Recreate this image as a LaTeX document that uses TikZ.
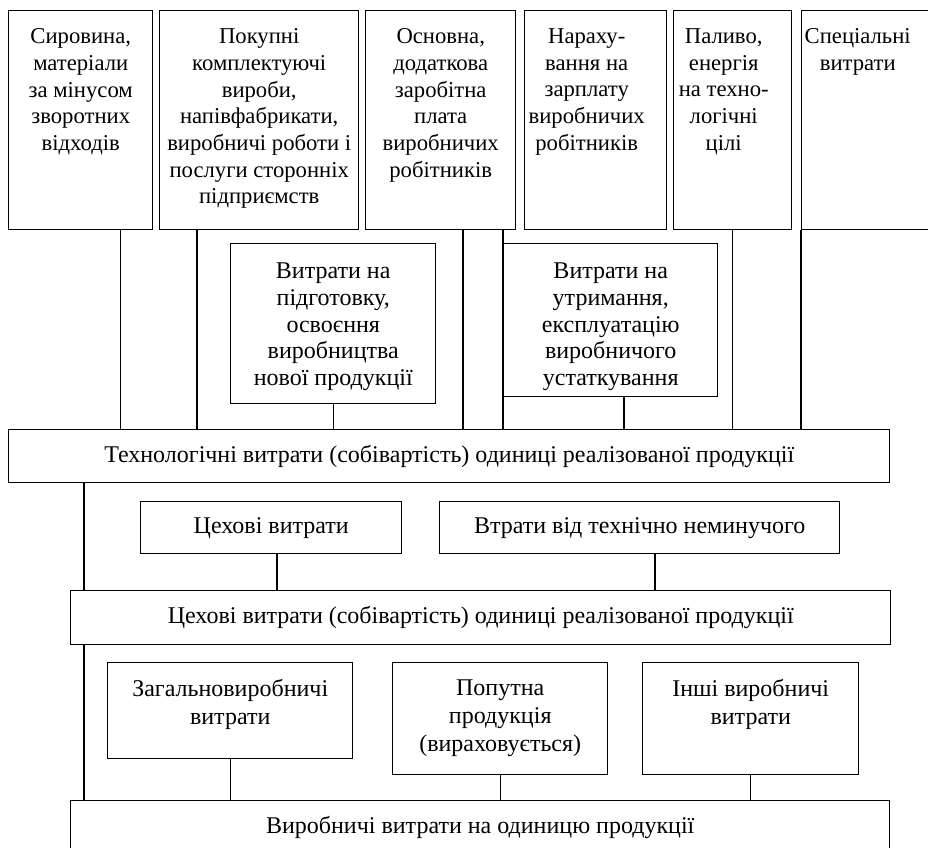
\documentclass[tikz,border=0pt]{standalone}
\usepackage{fontspec}
\setmainfont{Liberation Serif}
\usepackage{tikz}
\newlength{\pxu}
\setlength{\pxu}{0.75pt}
\newcommand{\cellbox}[4]{\parbox[t][#2\pxu][t]{#1\pxu}{\centering\vspace*{#3\pxu}#4}}
\tikzstyle{cell} = [
    rectangle,
    draw=black,
    line width=1.1pt,
    anchor=north west,
    inner sep=0pt
]
\tikzstyle{topcell} = [cell, font={\fontsize{17}{20}\selectfont}]
\tikzstyle{midcell} = [cell, font={\fontsize{18}{20.1}\selectfont}]
\tikzstyle{lowcell} = [cell, font={\fontsize{18}{21}\selectfont}]
\tikzstyle{bar} = [
    cell,
    font={\fontsize{18}{21}\selectfont},
    minimum height=53\pxu
]
\tikzstyle{link} = [
    line width=1.1pt,
    draw=black
]

\begin{document}
\begin{tikzpicture}[x=0.75pt, y=-0.75pt]
\useasboundingbox (0,0) rectangle (928,848);

% Top row of cost items
\node (raw) [topcell] at (8,10)
{\cellbox{144}{219}{18}{Сировина,\\ матеріали\\ за мінусом\\ зворотних\\ відходів}};

\node (bought) [topcell] at (159,10)
{\cellbox{199}{219}{18}{Покупні\\ комплектуючі\\ вироби,\\ напівфабрикати,\\ виробничі роботи і\\ послуги сторонніх\\ підприємств}};

\node (wage) [topcell] at (365,10)
{\cellbox{150}{219}{18}{Основна,\\ додаткова\\ заробітна\\ плата\\ виробничих\\ робітників}};

\node (accrual) [topcell] at (524,10)
{\cellbox{124}{219}{18}{Нараху-\\ вання на\\ зарплату\\ виробничих\\ робітників}\hspace*{18\pxu}};

\node (fuel) [topcell] at (673,10)
{\cellbox{100}{219}{18}{Паливо,\\ енергія\\ на техно-\\ логічні\\ цілі}\hspace*{18\pxu}};

\node (special) [topcell] at (801,10)
{\cellbox{112}{219}{18}{Спеціальні\\ витрати}\hspace*{30\pxu}};

\node (prep) [midcell] at (230,243)
{\cellbox{205}{160}{19}{Витрати на\\ підготовку,\\ освоєння\\ виробництва\\ нової продукції}};

\node (maint) [midcell] at (503,243)
{\cellbox{214}{153}{19}{Витрати на\\ утримання,\\ експлуатацію\\ виробничого\\ устаткування}};

\node (tech) [bar, minimum width=881\pxu] at (8,429)
{Технологічні витрати (собівартість) одиниці реалізованої продукції};

% Shop level
\node (shopcost) [bar, minimum width=261\pxu, minimum height=52\pxu] at (140,501) {Цехові витрати};

\node (loss) [bar, minimum width=400\pxu, minimum height=52\pxu] at (439,501) {Втрати від технічно неминучого};

\node (shop) [bar, minimum width=820\pxu, minimum height=54\pxu] at (70,590)
{Цехові витрати (собівартість) одиниці реалізованої продукції};

% Production level
\node (general) [lowcell] at (107,662)
{\cellbox{245}{96}{17}{Загальновиробничі\\ витрати}};

\node (byprod) [lowcell] at (392,662)
{\cellbox{215}{112}{17}{Попутна\\ продукція\\ (вираховується)}};

\node (other) [lowcell] at (642,662)
{\cellbox{216}{112}{17}{Інші виробничі\\ витрати}};

\node (total) [bar, minimum width=819\pxu] at (70,800)
{Виробничі витрати на одиницю продукції};

% Lines
\draw [link] ([xshift=40\pxu]raw.south) coordinate (l1) -- (l1 |- tech.north);
\draw [link] ([xshift=38\pxu]bought.south west) coordinate (l2) -- (l2 |- tech.north);
\draw [link] ([xshift=98\pxu]wage.south west) coordinate (l3) -- (l3 |- tech.north);
\draw [link] ([xshift=138\pxu]wage.south west) coordinate (l4) -- (l4 |- tech.north);
\draw [link] (prep.south) -- (prep.south |- tech.north);
\draw [link] ([xshift=121\pxu]maint.south west) coordinate (l5) -- (l5 |- tech.north);
\draw [link] (fuel.south) -- (fuel.south |- tech.north);
\draw [link] (special.south west) -- (special.south west |- tech.north);

\draw [link] ([xshift=76\pxu]tech.south west) coordinate (l6) -- (l6 |- shop.north);
\draw [link] ([xshift=137\pxu]shopcost.south west) coordinate (l7) -- (l7 |- shop.north);
\draw [link] ([xshift=216\pxu]loss.south west) coordinate (l8) -- (l8 |- shop.north);

\draw [link] ([xshift=14\pxu]shop.south west) coordinate (l9) -- (l9 |- total.north);
\draw [link] (general.south) -- (general.south |- total.north);
\draw [link] (byprod.south) -- (byprod.south |- total.north);
\draw [link] (other.south) -- (other.south |- total.north);

\end{tikzpicture}
\end{document}
